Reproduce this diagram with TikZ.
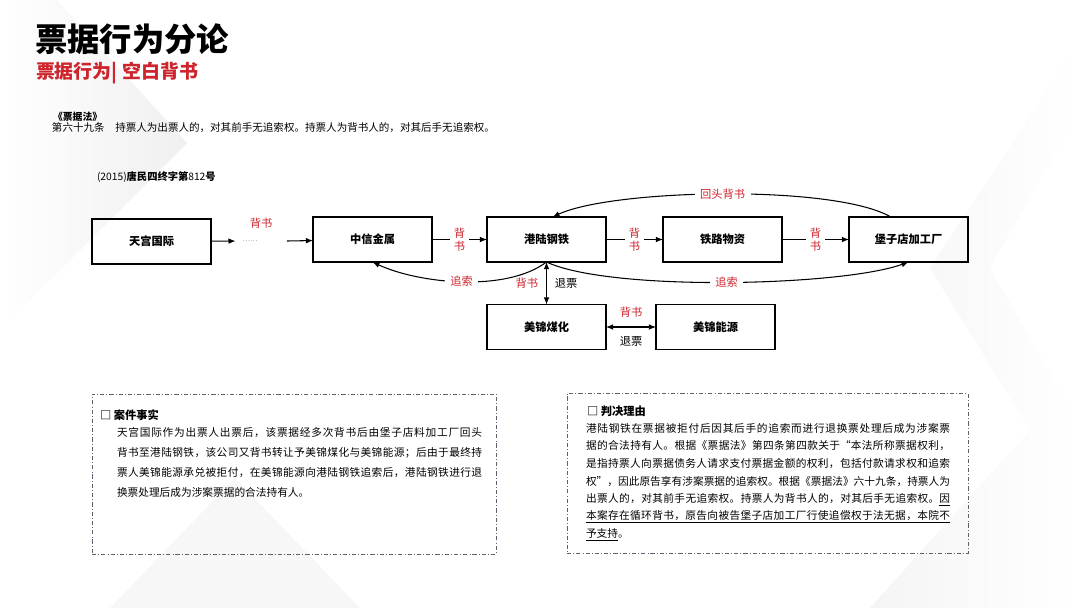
\documentclass[tikz,border=0pt]{standalone}
\usepackage{fontspec}
\setmainfont{Noto Sans CJK SC}
\usetikzlibrary{arrows.meta}
\definecolor{seal}{RGB}{206,36,44}
\definecolor{framegray}{RGB}{95,95,110}
% stretchable space between Chinese characters, for justified lines
\XeTeXinterchartokenstate=1
\newcount\hanzi
\hanzi="3000 \loop\XeTeXcharclass\hanzi=1 \advance\hanzi by 1 \ifnum\hanzi<"3040 \repeat
\hanzi="4E00 \loop\XeTeXcharclass\hanzi=1 \advance\hanzi by 1 \ifnum\hanzi<"A000 \repeat
\hanzi="FF00 \loop\XeTeXcharclass\hanzi=1 \advance\hanzi by 1 \ifnum\hanzi<"FFF0 \repeat
\XeTeXinterchartoks 1 1 = {\hskip 0pt plus 1pt minus .2pt}
\newcommand\factline[1]{\hbox to 9.125cm{#1}}
\newcommand\reasonline[1]{\hbox to 9.1cm{#1}}
\begin{document}
\begin{tikzpicture}[x=0.025cm,y=-0.025cm,inner sep=0pt,outer sep=0pt,
>={Latex[length=5pt,width=4pt]},
entity/.style={draw,rectangle,line width=0.9pt,minimum width=2.975cm,minimum height=1.125cm,font=\bfseries\fontsize{8}{10}\selectfont},
redtag/.style={text=seal,font=\fontsize{8}{9.5}\selectfont,inner sep=1pt},
blacktag/.style={font=\fontsize{8}{9.5}\selectfont,inner sep=1pt},
gaptag/.style={redtag,fill=white,align=center,inner xsep=2.5pt},
curvetag/.style={redtag,fill=white,inner xsep=4pt},
flow/.style={line width=0.75pt},
casebox/.style={draw=framegray,line width=0.6pt,dash pattern=on 3pt off 1.5pt on 0.6pt off 1.5pt,minimum height=4cm},
body/.style={anchor=west,font=\fontsize{7.6}{9}\selectfont}]
\useasboundingbox (0,0) rectangle (1080,608);
\fill[white] (0,0) rectangle (1080,608);
% faint background bands
\shade[left color=white,right color=black!6] (0,0) -- (57,0) -- (187,143) -- (0,330) -- cycle;
\fill[black!3] (110,608) -- (235,478) -- (360,608) -- cycle;
\shade[left color=black!4,right color=white] (1080,110) -- (990,268) -- (1080,425) -- (1080,608) -- (870,608) -- (1030,430) -- (930,268) -- (1080,40) -- cycle;

% heading
\node[anchor=west,font=\bfseries\fontsize{23}{26}\selectfont] (title) at (35,39) {票据行为分论};
\node[anchor=west,text=seal,font=\bfseries\fontsize{13.5}{15}\selectfont] (subtitle) at (36,73) {票据行为| 空白背书};
\node[anchor=west,font=\bfseries\fontsize{7}{8}\selectfont] (law) at (53,117) {《票据法》};
\node[anchor=west,font=\fontsize{7.5}{9}\selectfont] (art) at (52,128) {第六十九条　持票人为出票人的，对其前手无追索权。持票人为背书人的，对其后手无追索权。};
\node[anchor=west,font=\fontsize{7.3}{9}\selectfont] (caseno) at (97,177) {(2015)\textbf{唐民四终字第}812\textbf{号}};

% parties
\node[entity] (tg) at (151.5,241.5) {天宫国际};
\node[entity] (zx) at (372.5,239.5) {中信金属};
\node[entity] (gl) at (546.5,239.5) {港陆钢铁};
\node[entity] (tl) at (722.5,239.5) {铁路物资};
\node[entity] (bz) at (908.5,239.5) {堡子店加工厂};
\node[entity] (mh) at (546.5,327) {美锦煤化};
\node[entity] (ny) at (715.5,327) {美锦能源};

% endorsements
\node[text=black!55,font=\fontsize{5}{6}\selectfont,inner xsep=5pt] (dots) at (250,241) {……};
\node[redtag] (skip) at (261,223) {背书};
\coordinate (resume) at (287,241);
\draw[flow,->] (tg) -- (dots);
\draw[flow,->] (resume) -- (zx);
\draw[flow,->] (zx) -- node[gaptag]{背\\书} (gl);
\draw[flow,->] (gl) -- node[gaptag]{背\\书} (tl);
\draw[flow,->] (tl) -- node[gaptag]{背\\书} (bz);
\draw[flow,->] (bz.128) to[out=150,in=25,looseness=0.5] node[curvetag]{回头背书} (gl.75);
\draw[flow,->] (gl.south) to[out=217,in=335,looseness=0.75] node[curvetag]{追索} (zx.south);
\draw[flow,->] (gl.south) to[out=-25,in=200,looseness=0.5] node[curvetag]{追索} (bz.south);
\draw[flow,<->] (gl) -- node[redtag,left=5pt]{背书} node[blacktag,right=5pt]{退票} (mh);
\draw[flow,<->] (mh) -- node[redtag,above=6pt]{背书} node[blacktag,below=6pt]{退票} (ny);

% case facts
\node[casebox,minimum width=10.1cm] (facts) at (294,474) {};
\node[anchor=west,font=\bfseries\fontsize{8}{10}\selectfont] (factshead) at (100,415) {□ 案件事实};
\node[body] (f1) at (117,433) {\factline{天宫国际作为出票人出票后，该票据经多次背书后由堡子店料加工厂回头}};
\node[body] (f2) at (117,453) {\factline{背书至港陆钢铁，该公司又背书转让予美锦煤化与美锦能源；后由于最终持}};
\node[body] (f3) at (117,473) {\factline{票人美锦能源承兑被拒付，在美锦能源向港陆钢铁追索后，港陆钢铁进行退}};
\node[body] (f4) at (117,492) {换票处理后成为涉案票据的合法持有人。};

% reasons
\node[casebox,minimum width=10.025cm] (reason) at (767.5,473.5) {};
\node[anchor=west,font=\bfseries\fontsize{8}{10}\selectfont] (reasonhead) at (587,411) {□ 判决理由};
\node[body] (r1) at (586,428) {\reasonline{港陆钢铁在票据被拒付后因其后手的追索而进行退换票处理后成为涉案票}};
\node[body] (r2) at (586,446) {\reasonline{据的合法持有人。根据《票据法》第四条第四款关于“本法所称票据权利，}};
\node[body] (r3) at (586,464) {\reasonline{是指持票人向票据债务人请求支付票据金额的权利，包括付款请求权和追索}};
\node[body] (r4) at (586,482) {\reasonline{权”，因此原告享有涉案票据的追索权。根据《票据法》六十九条，持票人为}};
\node[body] (r5) at (586,500) {\reasonline{出票人的，对其前手无追索权。持票人为背书人的，对其后手无追索权。\underline{因}}};
\node[body] (r6) at (586,517) {\underline{\reasonline{本案存在循环背书，原告向被告堡子店加工厂行使追偿权于法无据，本院不}}};
\node[body] (r7) at (586,535) {\underline{予支持}。};
\end{tikzpicture}
\end{document}
